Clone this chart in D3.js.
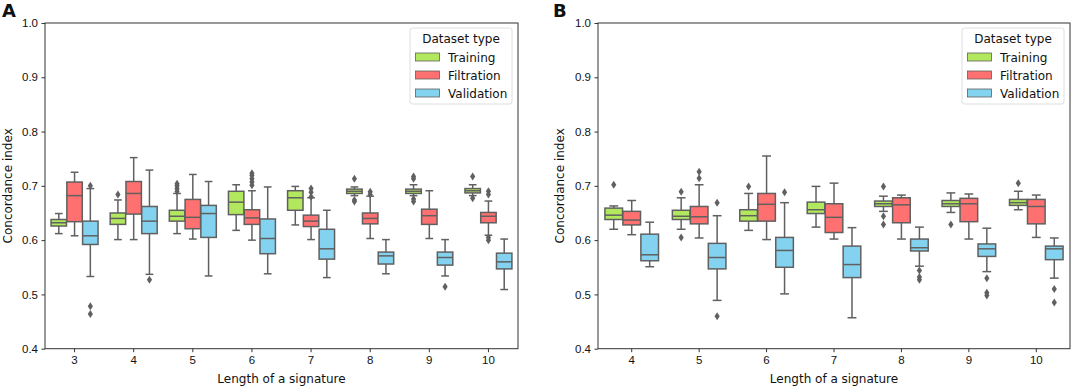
<!DOCTYPE html>
<html>
<head>
<meta charset="utf-8">
<script src="https://cdn.jsdelivr.net/npm/d3@7"></script>
<style>
  body { margin: 0; background: #fff; }
  svg { display: block; font-family: "DejaVu Sans", sans-serif; }
  .tick text { font-size: 11.5px; fill: #111; }
  .tick line, .domain { stroke: #333; }
</style>
</head>
<body>
<div id="chart"></div>
<script>
// box stats per signature length: [whiskerLow, q1, median, q3, whiskerHigh]
const hues = ["Training", "Filtration", "Validation"];
const hueColors = ["#b2e85e", "#ff7171", "#83d2ef"];
const yTicks = [0.4, 0.5, 0.6, 0.7, 0.8, 0.9, 1.0];

const lengthsA = ["3", "4", "5", "6", "7", "8", "9", "10"];
const trainingA = [
  [0.612, 0.626, 0.632, 0.638, 0.649], [0.601, 0.629, 0.640, 0.650, 0.674],
  [0.612, 0.635, 0.644, 0.655, 0.686], [0.618, 0.647, 0.670, 0.690, 0.702],
  [0.628, 0.655, 0.678, 0.691, 0.699], [0.682, 0.686, 0.690, 0.694, 0.698],
  [0.682, 0.686, 0.690, 0.694, 0.702], [0.682, 0.687, 0.691, 0.695, 0.702]
];
const filtrationA = [
  [0.608, 0.634, 0.682, 0.707, 0.725], [0.601, 0.648, 0.686, 0.708, 0.752],
  [0.602, 0.621, 0.642, 0.675, 0.721], [0.600, 0.629, 0.641, 0.656, 0.691],
  [0.601, 0.625, 0.635, 0.646, 0.678], [0.603, 0.630, 0.640, 0.650, 0.681],
  [0.603, 0.629, 0.645, 0.657, 0.691], [0.609, 0.632, 0.644, 0.651, 0.672]
];
const validationA = [
  [0.533, 0.592, 0.608, 0.635, 0.695], [0.537, 0.612, 0.635, 0.662, 0.729],
  [0.534, 0.605, 0.649, 0.664, 0.708], [0.538, 0.575, 0.603, 0.639, 0.698],
  [0.531, 0.565, 0.584, 0.620, 0.655], [0.538, 0.556, 0.571, 0.578, 0.601],
  [0.534, 0.554, 0.568, 0.578, 0.601], [0.509, 0.547, 0.560, 0.576, 0.602]
];
const trainingOutA = [[], [0.684], [0.690, 0.695, 0.700, 0.704], [], [],
  [0.713, 0.674, 0.671], [0.713, 0.717, 0.676, 0.671], [0.717, 0.677]];
const filtrationOutA = [[], [], [], [0.701, 0.707, 0.713, 0.719, 0.723],
  [0.680, 0.688, 0.695], [0.684, 0.689], [], [0.684, 0.690, 0.605, 0.600]];
const validationOutA = [[0.700, 0.478, 0.464], [0.527], [], [], [], [], [0.514], []];

const lengthsB = ["4", "5", "6", "7", "8", "9", "10"];
const trainingB = [
  [0.620, 0.638, 0.646, 0.659, 0.663], [0.620, 0.638, 0.644, 0.655, 0.678],
  [0.618, 0.635, 0.645, 0.656, 0.686], [0.624, 0.649, 0.656, 0.670, 0.699],
  [0.653, 0.662, 0.667, 0.672, 0.681], [0.651, 0.662, 0.667, 0.673, 0.687],
  [0.656, 0.664, 0.669, 0.675, 0.690]
];
const filtrationB = [
  [0.610, 0.628, 0.637, 0.653, 0.673], [0.604, 0.630, 0.643, 0.662, 0.702],
  [0.601, 0.635, 0.666, 0.686, 0.755], [0.602, 0.614, 0.642, 0.667, 0.705],
  [0.602, 0.632, 0.665, 0.678, 0.683], [0.602, 0.634, 0.667, 0.677, 0.685],
  [0.605, 0.630, 0.662, 0.675, 0.683]
];
const validationB = [
  [0.551, 0.562, 0.573, 0.611, 0.633], [0.489, 0.547, 0.568, 0.594, 0.645],
  [0.501, 0.550, 0.581, 0.605, 0.669], [0.457, 0.531, 0.555, 0.589, 0.623],
  [0.552, 0.580, 0.586, 0.602, 0.624], [0.542, 0.570, 0.584, 0.593, 0.622],
  [0.530, 0.564, 0.584, 0.589, 0.604]
];
const trainingOutB = [[0.702], [0.689, 0.605], [0.699], [], [0.699, 0.644, 0.629], [0.629], [0.705]];
const filtrationOutB = [[], [0.714, 0.726], [], [], [], [], []];
const validationOutB = [[], [0.669, 0.460], [0.688], [], [0.544, 0.532, 0.527], [0.530, 0.503, 0.498], [0.510, 0.485]];

const W = 1072, H = 387;
const edge = "#606060";

const svg = d3.select("#chart").append("svg")
  .attr("width", W).attr("height", H);

function drawPanel(opts) {
  const { left, right, top, bottom, label, labelX, lengths, stats, outs, ylabelX } = opts;
  const g = svg.append("g");

  const x = d3.scaleBand().domain(lengths).range([left, right]);
  const y = d3.scaleLinear().domain([0.4, 1.0]).range([bottom, top]);
  const sub = d3.scaleBand().domain(hues).range([0, x.bandwidth() * 0.8]);
  const off = x.bandwidth() * 0.1;
  const boxW = sub.bandwidth() * 0.98;

  // boxes
  hues.forEach((h, hi) => {
    lengths.forEach((len, i) => {
      const [lo, q1, med, q3, up] = stats[hi][i];
      const cx = x(len) + off + sub(h) + sub.bandwidth() / 2;
      const bg = g.append("g");
      bg.append("line").attr("x1", cx).attr("x2", cx).attr("y1", y(q3)).attr("y2", y(up))
        .attr("stroke", edge).attr("stroke-width", 1.5);
      bg.append("line").attr("x1", cx).attr("x2", cx).attr("y1", y(q1)).attr("y2", y(lo))
        .attr("stroke", edge).attr("stroke-width", 1.5);
      [lo, up].forEach(v => {
        bg.append("line").attr("x1", cx - boxW / 4).attr("x2", cx + boxW / 4)
          .attr("y1", y(v)).attr("y2", y(v)).attr("stroke", edge).attr("stroke-width", 1.5);
      });
      bg.append("rect").attr("x", cx - boxW / 2).attr("width", boxW)
        .attr("y", y(q3)).attr("height", y(q1) - y(q3))
        .attr("fill", hueColors[hi]).attr("stroke", edge).attr("stroke-width", 1.5);
      bg.append("line").attr("x1", cx - boxW / 2).attr("x2", cx + boxW / 2)
        .attr("y1", y(med)).attr("y2", y(med)).attr("stroke", edge).attr("stroke-width", 1.5);
      outs[hi][i].forEach(v => {
        bg.append("path")
          .attr("d", `M${cx},${y(v) - 4}L${cx + 2.6},${y(v)}L${cx},${y(v) + 4}L${cx - 2.6},${y(v)}Z`)
          .attr("fill", edge);
      });
    });
  });

  // frame + axes
  g.append("rect").attr("x", left).attr("y", top).attr("width", right - left).attr("height", bottom - top)
    .attr("fill", "none").attr("stroke", "#333").attr("stroke-width", 1);

  g.append("g").attr("transform", `translate(0,${bottom})`)
    .call(d3.axisBottom(x).tickSize(3.5).tickPadding(3.5))
    .call(a => a.select(".domain").remove());
  g.append("g").attr("transform", `translate(${left},0)`)
    .call(d3.axisLeft(y).tickValues(yTicks).tickFormat(d3.format(".1f")).tickSize(3.5).tickPadding(3.5))
    .call(a => a.select(".domain").remove());

  g.append("text").attr("x", (left + right) / 2).attr("y", H - 4)
    .attr("text-anchor", "middle").attr("font-size", 12).attr("fill", "#111")
    .text("Length of a signature");
  g.append("text").attr("transform", `translate(${ylabelX},${(top + bottom) / 2}) rotate(-90)`)
    .attr("text-anchor", "middle").attr("font-size", 12).attr("fill", "#111")
    .text("Concordance index");

  g.append("text").attr("x", labelX).attr("y", 17).attr("font-size", 18)
    .attr("font-weight", "bold").attr("fill", "#111").text(label);

  // legend
  const lx = right - 108, ly = top + 5;
  const lg = g.append("g").attr("transform", `translate(${lx},${ly})`);
  lg.append("rect").attr("width", 102).attr("height", 76).attr("rx", 2.5)
    .attr("fill", "#fff").attr("fill-opacity", 0.8).attr("stroke", "#d6d6d6").attr("stroke-width", 0.8);
  lg.append("text").attr("x", 51).attr("y", 15).attr("text-anchor", "middle")
    .attr("font-size", 12).attr("fill", "#111").text("Dataset type");
  hues.forEach((h, i) => {
    const yy = 29 + i * 18;
    lg.append("rect").attr("x", 5.5).attr("y", yy - 4).attr("width", 24).attr("height", 8)
      .attr("fill", hueColors[i]).attr("stroke", edge).attr("stroke-width", 0.8);
    lg.append("text").attr("x", 38).attr("y", yy + 4.5).attr("font-size", 12)
      .attr("fill", "#111").text(h);
  });
}

drawPanel({
  left: 45, right: 518, top: 23, bottom: 348.7, label: "A", labelX: 2, ylabelX: 12,
  lengths: lengthsA,
  stats: [trainingA, filtrationA, validationA],
  outs: [trainingOutA, filtrationOutA, validationOutA]
});
drawPanel({
  left: 598, right: 1070, top: 23, bottom: 348.7, label: "B", labelX: 553, ylabelX: 564,
  lengths: lengthsB,
  stats: [trainingB, filtrationB, validationB],
  outs: [trainingOutB, filtrationOutB, validationOutB]
});
</script>
</body>
</html>
